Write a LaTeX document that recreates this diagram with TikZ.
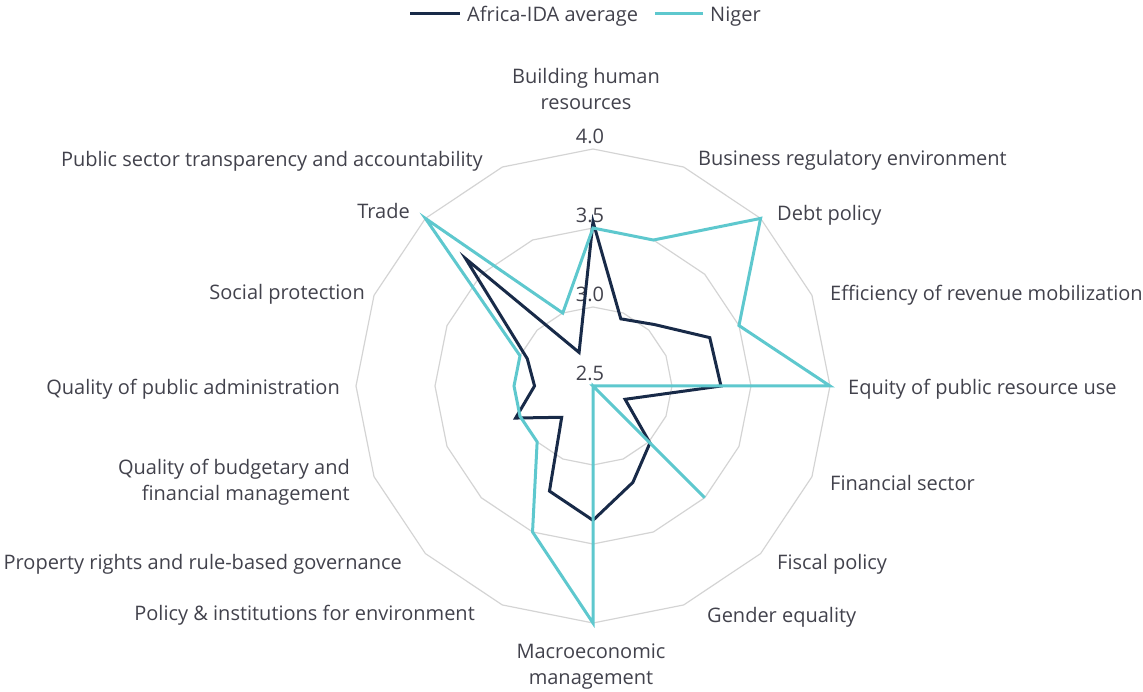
\documentclass[tikz,border=0pt]{standalone}
\usepackage{fontspec}
\setmainfont{Open Sans}

\definecolor{idanavy}{RGB}{24,42,72}
\definecolor{nigerteal}{RGB}{94,200,206}
\definecolor{labelgray}{RGB}{66,66,76}
\definecolor{ringgray}{RGB}{212,212,212}

\newcommand{\rscale}{158}

\tikzset{
    ring/.style={draw=ringgray,line width=1.2pt},
    idaline/.style={draw=idanavy,line width=3pt},
    nigerline/.style={draw=nigerteal,line width=3pt},
    catlabel/.style={text=labelgray,font=\fontsize{20}{26}\selectfont,inner sep=0pt},
}

\begin{document}
\begin{tikzpicture}[x=1pt,y=1pt]
        \useasboundingbox (-593,-306) rectangle (550,386);

        % draw the rings at 3.0, 3.5 and 4.0
        \foreach \r in {79,158,237}
                \draw[ring] (90:\r) \foreach \k in {1,...,15} { -- ({90+\k*22.5}:\r) } -- cycle;

        % draw the scale values on the top axis
        \foreach \r/\val [count=\i] in {0/2.5,79/3.0,158/3.5,237/4.0}
                \node[catlabel,anchor=base] (tick\i) at (-3,\r+5) {\val};

        % Africa-IDA average
        \draw[idaline] (90:{(3.54-2.5)*\rscale})
            \foreach \v [count=\k] in {2.96,3.05,3.30,3.31,2.72,3.01,3.16,3.35,3.22,2.78,3.03,2.87,2.95,3.64,2.73}
                { -- ({90-\k*22.5}:{(\v-2.5)*\rscale}) } -- cycle;

        % Niger
        \draw[nigerline] (90:{(3.5-2.5)*\rscale})
            \foreach \v [count=\k] in {3.5,4.0,3.5,4.0,2.5,3.5,2.5,4.0,3.5,3.0,3.0,3.0,3.0,4.0,3.0}
                { -- ({90-\k*22.5}:{(\v-2.5)*\rscale}) } -- cycle;

        % category labels, right side
        \foreach \pos/\txt [count=\i] in {
            {(105,220)}/Business regulatory environment,
            {(184,165)}/Debt policy,
            {(237,85)}/Efficiency of revenue mobilization,
            {(255,-9)}/Equity of public resource use,
            {(237,-105)}/Financial sector,
            {(184,-184)}/Fiscal policy,
            {(114,-237)}/Gender equality}
                \node[catlabel,anchor=base west] (right\i) at \pos {\txt};

        % category labels, left side
        \foreach \pos/\txt [count=\i] in {
            {(-118,-235)}/Policy \& institutions for environment,
            {(-191,-184)}/Property rights and rule-based governance,
            {(-253,-9)}/Quality of public administration,
            {(-228,86)}/Social protection,
            {(-183,167)}/Trade,
            {(-110,219)}/Public sector transparency and accountability}
                \node[catlabel,anchor=base east] (left\i) at \pos {\txt};

        % the two-line labels
        \node[catlabel,align=center] (top) at (-7,297) {Building human\\resources};
        \node[catlabel,align=center] (bottom) at (-2,-281) {Macroeconomic\\management};
        \node[catlabel,align=right,anchor=east] (budget) at (-243,-96) {Quality of budgetary and\\financial management};

        % legend
        \node[catlabel,anchor=base west] (legida) at (-126,364) {Africa-IDA average};
        \node[catlabel,anchor=base west] (legniger) at (117,364) {Niger};
        \draw[idaline] ([xshift=-7pt]legida.west |- 0,372) -- +(-50,0);
        \draw[nigerline] ([xshift=-7pt]legniger.west |- 0,372) -- +(-48,0);
\end{tikzpicture}
\end{document}
